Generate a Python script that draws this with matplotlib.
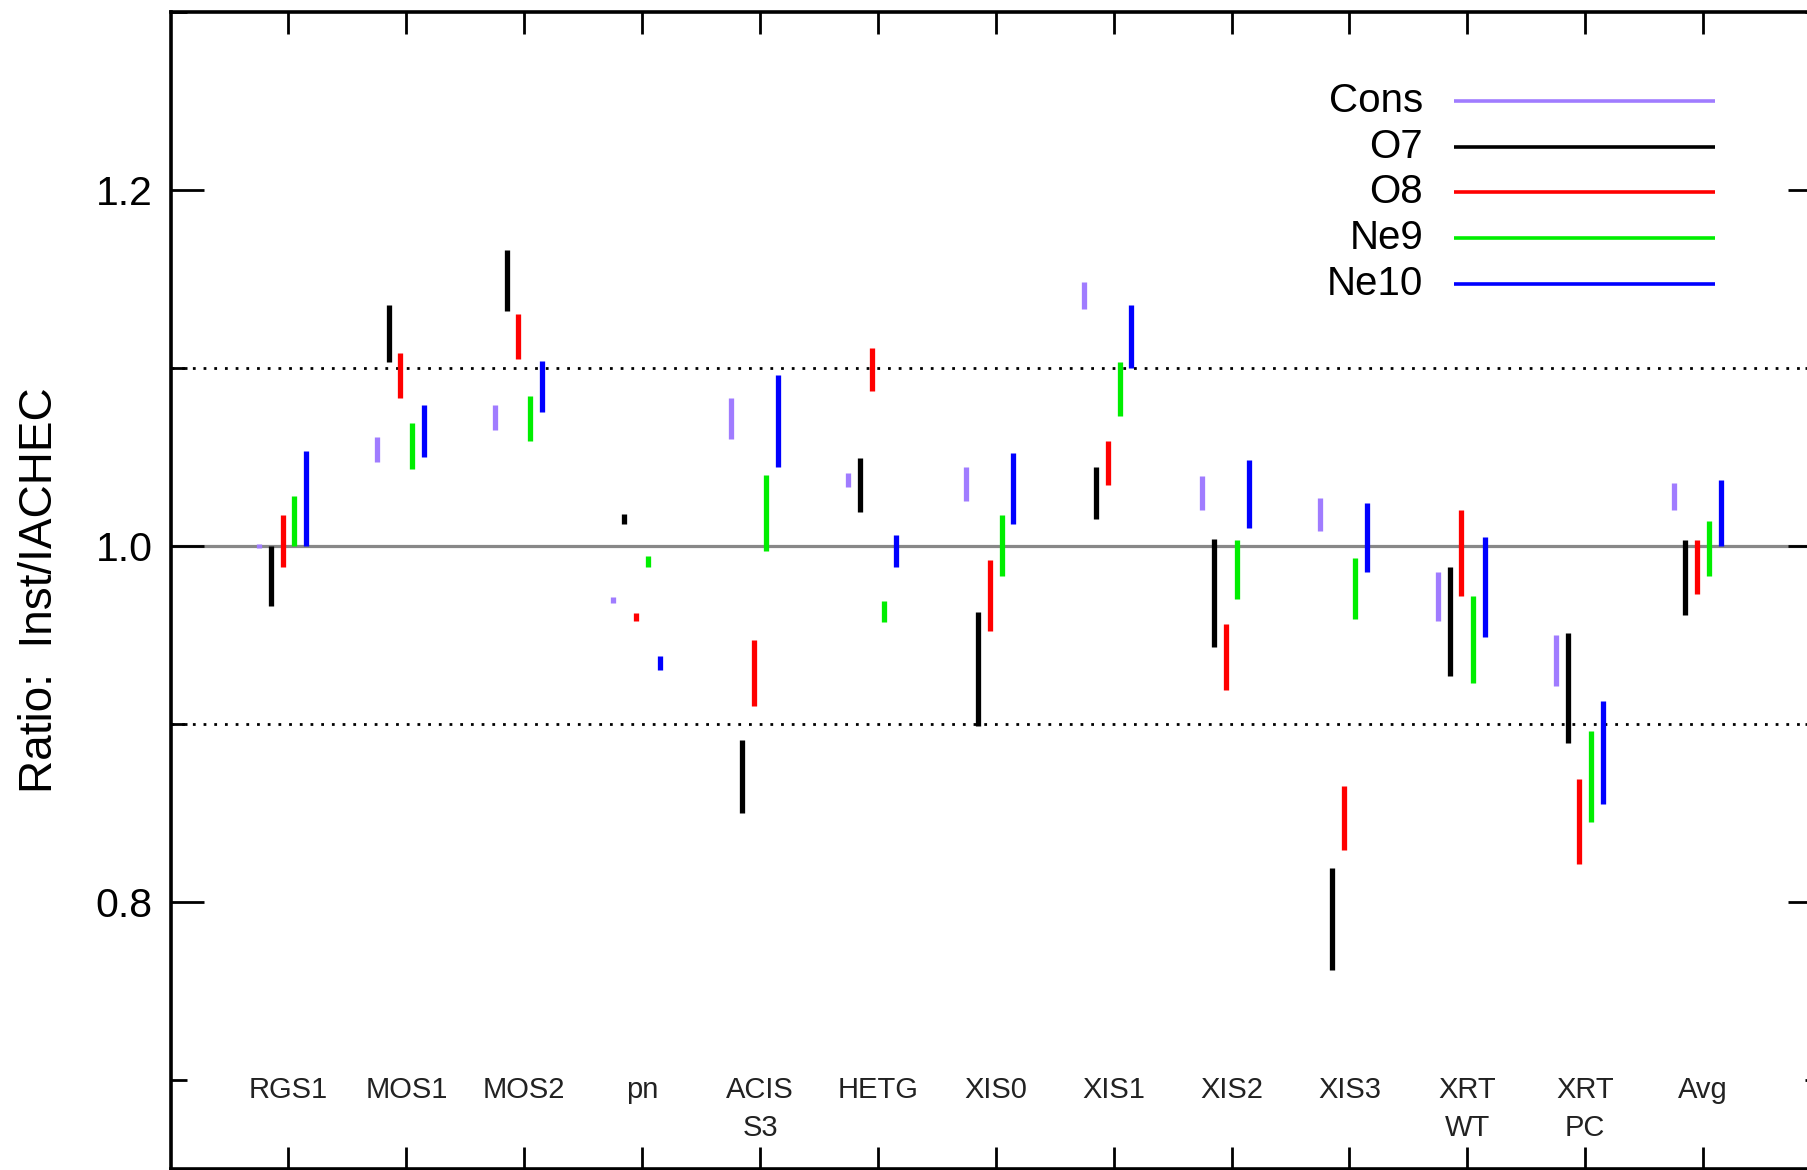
import matplotlib
matplotlib.use("Agg")
import matplotlib.pyplot as plt
import numpy as np
from matplotlib.ticker import FixedLocator

plt.rcParams['font.family'] = ['Liberation Sans', 'DejaVu Sans']

categories = ["RGS1", "MOS1", "MOS2", "pn", "ACIS\nS3", "HETG", "XIS0", "XIS1",
              "XIS2", "XIS3", "XRT\nWT", "XRT\nPC", "Avg"]

series_names = ["Cons", "O7", "O8", "Ne9", "Ne10"]
series_colors = ["#a07cff", "#000000", "#ff0000", "#00ee00", "#0000ff"]

cons_lo = [0.999, 1.047, 1.065, 0.968, 1.060, 1.033, 1.025, 1.133, 1.020, 1.008, 0.958, 0.921, 1.020]
cons_hi = [1.001, 1.061, 1.079, 0.971, 1.083, 1.041, 1.044, 1.148, 1.039, 1.027, 0.985, 0.950, 1.035]
o7_lo = [0.966, 1.103, 1.132, 1.012, 0.850, 1.019, 0.899, 1.015, 0.943, 0.762, 0.927, 0.889, 0.961]
o7_hi = [1.000, 1.135, 1.166, 1.018, 0.891, 1.049, 0.963, 1.044, 1.004, 0.819, 0.988, 0.951, 1.003]
o8_lo = [0.988, 1.083, 1.105, 0.958, 0.910, 1.087, 0.952, 1.034, 0.919, 0.829, 0.972, 0.821, 0.973]
o8_hi = [1.017, 1.108, 1.130, 0.962, 0.947, 1.111, 0.992, 1.059, 0.956, 0.865, 1.020, 0.869, 1.003]
ne9_lo = [1.000, 1.043, 1.059, 0.988, 0.997, 0.957, 0.983, 1.073, 0.970, 0.959, 0.923, 0.845, 0.983]
ne9_hi = [1.028, 1.069, 1.084, 0.994, 1.040, 0.969, 1.017, 1.103, 1.003, 0.993, 0.972, 0.896, 1.014]
ne10_lo = [1.000, 1.050, 1.075, 0.930, 1.044, 0.988, 1.012, 1.100, 1.010, 0.985, 0.949, 0.855, 1.000]
ne10_hi = [1.053, 1.079, 1.104, 0.938, 1.096, 1.006, 1.052, 1.135, 1.048, 1.024, 1.005, 0.913, 1.037]

lows = [cons_lo, o7_lo, o8_lo, ne9_lo, ne10_lo]
highs = [cons_hi, o7_hi, o8_hi, ne9_hi, ne10_hi]
offsets = [-0.25, -0.15, -0.05, 0.05, 0.15]

W, H = 1807, 1170
fig = plt.figure(figsize=(W / 100, H / 100), dpi=100)
left = 170.6 / W
width = (1821 - 170.6) / W
bottom = 1.0 / H
height = (1169 - 11.5) / H
ax = fig.add_axes([left, bottom, width, height])
ax.set_xlim(0, 14)
ax.set_ylim(0.65, 1.3)

# reference lines
ax.axhline(1.0, color="#888888", lw=2.3, zorder=1)
for yv in (0.9, 1.1):
    ax.axhline(yv, color="black", lw=2.0, linestyle=(0, (1, 2.85)), zorder=1)

xpos = np.arange(1, len(categories) + 1)
for lo, hi, off, col in zip(lows, highs, offsets, series_colors):
    ax.vlines(xpos + off, lo, hi, colors=col, lw=3.8, zorder=3, capstyle='butt')

# category labels inside the plot
for x, lab in zip(xpos, categories):
    ax.text(x, 0.702, lab, ha="center", va="top", fontsize=21, linespacing=1.42,
            color="#222222")

# manual legend
leg_y = [0.9227, 0.8833, 0.8437, 0.8040, 0.7646]
for name, col, yy in zip(series_names, series_colors, leg_y):
    ax.text(0.7589, yy, name, transform=ax.transAxes, ha="right", va="center",
            fontsize=29)
    ax.plot([0.7776, 0.9359], [yy, yy], transform=ax.transAxes, color=col, lw=2.6,
            solid_capstyle='butt')

# ticks
ax.xaxis.set_major_locator(FixedLocator(list(xpos)))
ax.tick_params(axis="x", which="major", direction="in", top=True, bottom=True,
               length=15.5, width=2.0, labelbottom=False)
ax.yaxis.set_major_locator(FixedLocator([0.8, 1.0, 1.2]))
ax.yaxis.set_minor_locator(FixedLocator([0.7, 0.9, 1.1, 1.3]))
ax.set_yticklabels(["0.8", "1.0", "1.2"])
ax.tick_params(axis="y", which="major", direction="in", left=True, right=True,
               length=24, width=2.0, labelsize=29.5, pad=13)
ax.tick_params(axis="y", which="minor", direction="in", left=True, right=True,
               length=11.5, width=2.0)
for sp in ax.spines.values():
    sp.set_linewidth(2.6)

ax.set_ylabel("Ratio:  Inst/IACHEC", fontsize=33)
ax.yaxis.set_label_coords(-0.066, 0.5)

fig.savefig("out.png", dpi=100)
